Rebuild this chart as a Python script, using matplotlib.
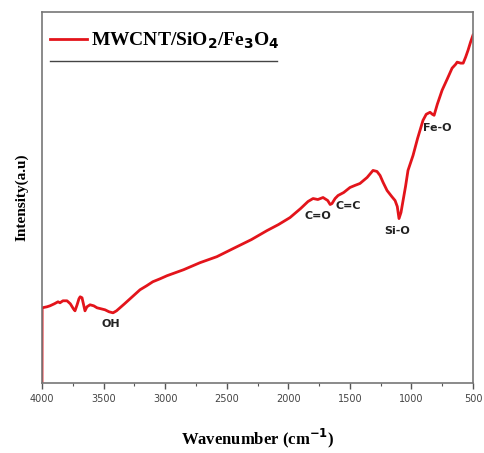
import matplotlib
matplotlib.use("Agg")
import matplotlib.pyplot as plt
from matplotlib.ticker import MultipleLocator, NullLocator

# FTIR spectrum (wavenumber in cm-1, intensity in arbitrary units)
wavenumber = [4000, 3999, 3960, 3935, 3900, 3870, 3854, 3830, 3797, 3770, 3745, 3732,
              3715, 3700, 3690, 3675, 3662, 3651, 3635, 3610, 3580, 3553, 3520,
              3488, 3455, 3423, 3395, 3367, 3330, 3285, 3240, 3204, 3150, 3100,
              3040, 2985, 2850, 2717, 2580, 2449, 2300, 2173, 2080, 1986, 1900,
              1840, 1799, 1760, 1718, 1680, 1660, 1645, 1620, 1596, 1550, 1499,
              1460, 1418, 1360, 1312, 1280, 1255, 1230, 1198, 1160, 1133, 1115,
              1101, 1085, 1068, 1048, 1028, 987, 950, 906, 880, 849, 830, 816,
              790, 751, 710, 670, 640, 629, 600, 580, 560, 540, 520, 500]
intensity = [0, 75, 76, 77, 79, 81, 80, 82, 82, 79, 74, 72,
             78, 84, 86, 85, 78, 72, 76, 78, 77, 75, 74,
             73, 71, 70, 72, 75, 79, 84, 89, 93, 97, 101,
             104, 107, 113, 120, 126, 134, 143, 152, 158, 165, 174,
             181, 184, 183, 185, 182, 178, 179, 184, 187, 190, 195,
             197, 199, 205, 212, 211, 207, 200, 192, 186, 182, 176,
             164, 170, 182, 196, 212, 227, 244, 262, 268, 270, 268, 267,
             278, 292, 303, 314, 318, 320, 319, 319, 325, 332, 340, 347]

peak_labels = ["OH", "C=O", "C=C", "Si-O", "Fe-O"]
peak_x = [3440, 1760, 1510, 1120, 790]
peak_y = [59, 167, 177, 152, 254]

fig = plt.figure(figsize=(4.85, 4.53), dpi=100)
ax = fig.add_axes([0.0866, 0.1545, 0.8887, 0.8190])

ax.plot(wavenumber, intensity, color="#e3141b", linewidth=2.0,
        label=r"MWCNT/SiO$_\mathbf{2}$/Fe$_\mathbf{3}$O$_\mathbf{4}$")

ax.set_xlim(4000, 500)
ax.set_ylim(0, 370)

# peak assignments
for lab, px, py in zip(peak_labels, peak_x, peak_y):
    ax.text(px, py, lab, fontsize=8, fontweight="bold", family="DejaVu Sans",
            ha="center", va="center", color="#222222")

leg = ax.legend(loc="upper left", bbox_to_anchor=(-0.008, 0.98), frameon=False,
                handlelength=1.9, handletextpad=0.2, borderaxespad=0.2,
                prop={"family": "Liberation Serif", "weight": "bold", "size": 14})
# thin rule under the legend
ax.plot([0.019, 0.545], [0.867, 0.867], transform=ax.transAxes,
        color="#444444", linewidth=1.0)

ax.xaxis.set_major_locator(MultipleLocator(500))
ax.xaxis.set_minor_locator(MultipleLocator(250))
ax.yaxis.set_major_locator(NullLocator())
ax.tick_params(axis="x", which="major", direction="out", length=4, width=1.0,
               labelsize=7, colors="#555555", labelcolor="#444444", pad=4)
ax.tick_params(axis="x", which="minor", direction="out", length=2, width=0.8,
               colors="#555555")

for sp in ax.spines.values():
    sp.set_color("#777777")
    sp.set_linewidth(1.2)

ax.set_xlabel(r"Wavenumber (cm$^{\mathbf{-1}}$)", family="Liberation Serif",
              fontweight="bold", fontsize=12, labelpad=16)
ax.set_ylabel("Intensity(a.u)", family="Liberation Serif", fontweight="bold",
              fontsize=11, labelpad=10)

fig.savefig("out.png", dpi=100)
